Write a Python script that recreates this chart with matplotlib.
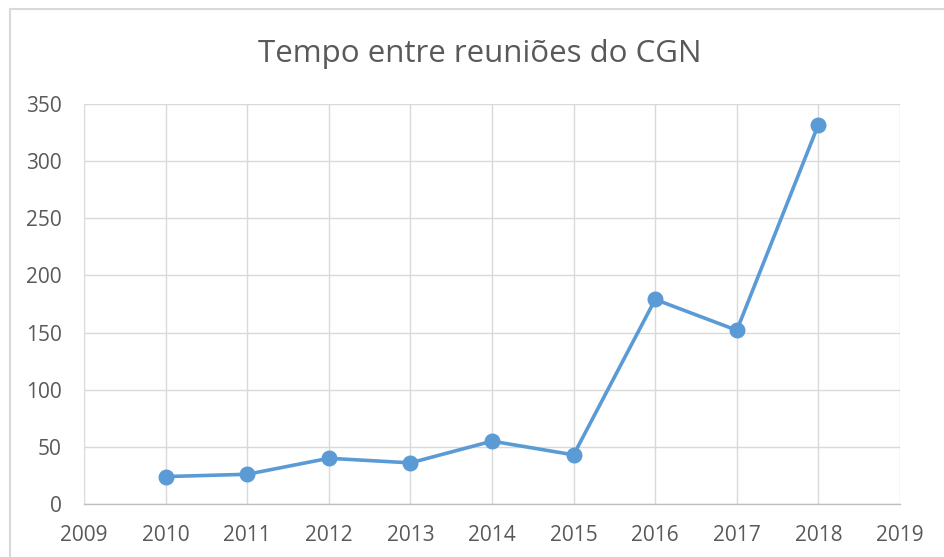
import matplotlib.pyplot as plt
from matplotlib.lines import Line2D

years = [2010, 2011, 2012, 2013, 2014, 2015, 2016, 2017, 2018]
days = [24, 26, 40, 36, 55, 43, 179, 152, 332]
xticks = list(range(2009, 2020))
yticks = list(range(0, 351, 50))

plt.rcParams['font.family'] = ['Open Sans', 'DejaVu Sans']
textColor = '#595959'
gridColor = '#D9D9D9'

fig = plt.figure(figsize=(9.45, 5.57), dpi=100)
ax = fig.add_axes([84 / 945, 53 / 557, 816 / 945, 400 / 557])

ax.plot(years, days, color='#5B9BD5', linewidth=2.6, marker='o',
        markersize=10.5, solid_capstyle='round', zorder=3)

ax.set_xlim(2009, 2019)
ax.set_ylim(0, 350)
ax.set_xticks(xticks)
ax.set_yticks(yticks)
ax.grid(True, color=gridColor, linewidth=1.0)
ax.set_axisbelow(True)
ax.tick_params(length=0, labelsize=15, labelcolor=textColor)
ax.tick_params(axis='x', pad=15)
ax.tick_params(axis='y', pad=16)
for side in ['left', 'top', 'right']:
    ax.spines[side].set_visible(False)
ax.spines['bottom'].set_color('#BFBFBF')
ax.spines['bottom'].set_linewidth(1.0)

fig.text(480 / 945, 1 - 54 / 557, 'Tempo entre reuniões do CGN',
         ha='center', va='center', fontsize=22.5, color=textColor)

# chart frame (partially cut off at right and bottom)
fig.add_artist(Line2D([10 / 945, 10 / 945], [0, 1 - 9 / 557],
                      transform=fig.transFigure, color=gridColor, linewidth=1.5))
fig.add_artist(Line2D([10 / 945, 1], [1 - 9 / 557, 1 - 9 / 557],
                      transform=fig.transFigure, color=gridColor, linewidth=1.5))

fig.savefig('out.png', dpi=100)
